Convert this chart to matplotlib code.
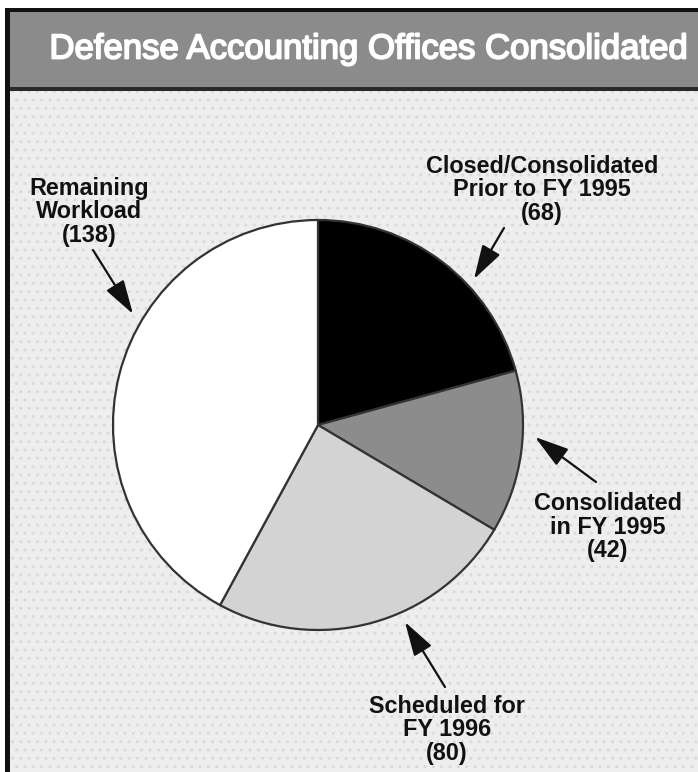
import matplotlib
matplotlib.use("Agg")
import matplotlib.pyplot as plt
from matplotlib.patches import Rectangle
import matplotlib.patheffects as pe

# Office counts by consolidation status (clockwise from 12 o'clock)
categories = [
    "Closed/Consolidated\nPrior to FY 1995",
    "Consolidated\nin FY 1995",
    "Scheduled for\nFY 1996",
    "Remaining\nWorkload",
]
offices = [68, 42, 80, 138]
slice_colors = ["#000000", "#8c8c8c", "#d3d3d3", "#ffffff"]
title = "Defense Accounting Offices Consolidated"

W, H = 698, 772
BG = "#eeeeee"
fig = plt.figure(figsize=(W / 100, H / 100), dpi=100, facecolor=BG)
ax = fig.add_axes([0, 0, 1, 1])

# Panel: stippled light background, grey title band, dark frame
ax.add_patch(Rectangle((-5, -5), W + 10, 13, facecolor="white",
                       edgecolor="none", zorder=0))
ax.add_patch(Rectangle((-5, -5), 10, H + 10, facecolor="white",
                       edgecolor="none", zorder=0))
ax.add_patch(Rectangle((10, 91), W, H, facecolor=BG,
                       edgecolor="#dadada", hatch="..", linewidth=0, zorder=0))
ax.add_patch(Rectangle((10, 11), W, 77, facecolor="#8b8b8b",
                       edgecolor="none", zorder=0))
ax.add_patch(Rectangle((10, 87), W, 4, facecolor="#2a2a2a",
                       edgecolor="none", zorder=1))
ax.add_patch(Rectangle((5, 8), W, 4, facecolor="#111111",
                       edgecolor="none", zorder=1))
ax.add_patch(Rectangle((5, 8), 5, H, facecolor="#111111",
                       edgecolor="none", zorder=1))

ax.text(369, 49, title, color="white", fontsize=25, family="Liberation Sans",
        ha="center", va="center", zorder=3,
        path_effects=[pe.Stroke(linewidth=1.3, foreground="white"), pe.Normal()])

# Pie (y axis runs downward, so counterclockwise in data is clockwise on screen)
ax.pie(offices, colors=slice_colors, startangle=-90, counterclock=True,
       center=(318, 425), radius=205,
       wedgeprops=dict(edgecolor="#333333", linewidth=1.6))

ax.set_xlim(0, W)
ax.set_ylim(H, 0)
ax.set_aspect("auto")
ax.axis("off")

label_pos = [(542, 190), (608, 527), (447, 730), (89, 212)]
arrow_tail = [(504, 228), (596, 482), (445, 687), (93, 250)]
arrow_tip = [(474, 279), (535, 437), (405, 622), (133, 314)]

for name, val, (lx, ly) in zip(categories, offices, label_pos):
    ax.text(lx, ly, f"{name}\n({val})", fontsize=16.8, fontweight="bold",
            family="Liberation Sans", ha="center", va="center",
            multialignment="center", linespacing=1.03, color="#111111", zorder=4)

for tail, tip in zip(arrow_tail, arrow_tip):
    ax.annotate("", xy=tip, xytext=tail,
                arrowprops=dict(arrowstyle="-|>,head_length=1.5,head_width=0.45",
                                mutation_scale=14, lw=1.6, color="#111111",
                                shrinkA=0, shrinkB=0), zorder=4)

fig.savefig("out.png", dpi=100, facecolor=BG)
